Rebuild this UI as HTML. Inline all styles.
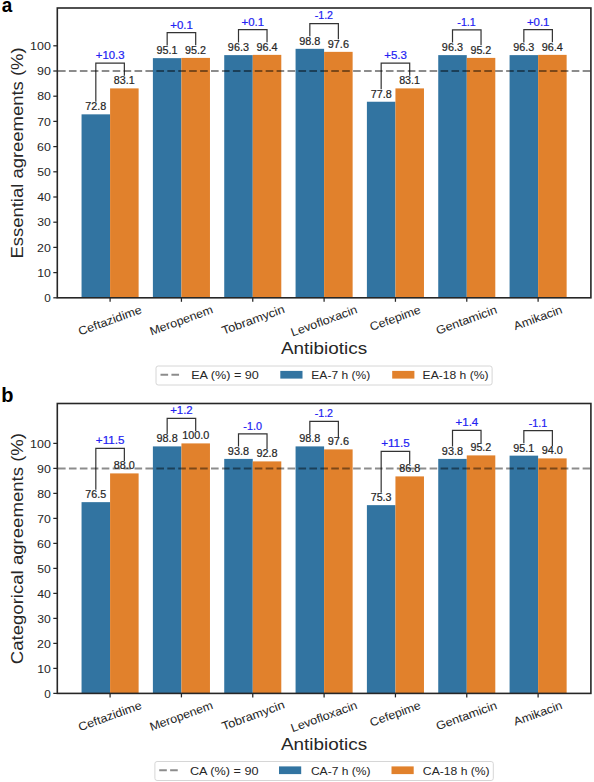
<!DOCTYPE html>
<html><head><meta charset="utf-8"><title>Antibiotic agreements chart</title>
<style>html,body{margin:0;padding:0;background:#fff;} svg{display:block;}</style>
</head><body>
<svg width="594" height="782" viewBox="0 0 594 782">
<rect x="0" y="0" width="594" height="782" fill="#ffffff"/>
<rect x="81.55" y="114.34" width="28.53" height="183.46" fill="#3274a1"/>
<rect x="110.09" y="88.39" width="28.53" height="209.41" fill="#e1812c"/>
<rect x="152.89" y="58.15" width="28.53" height="239.65" fill="#3274a1"/>
<rect x="181.43" y="57.90" width="28.53" height="239.90" fill="#e1812c"/>
<rect x="224.23" y="55.12" width="28.53" height="242.68" fill="#3274a1"/>
<rect x="252.76" y="54.87" width="28.53" height="242.93" fill="#e1812c"/>
<rect x="295.57" y="48.82" width="28.53" height="248.98" fill="#3274a1"/>
<rect x="324.10" y="51.85" width="28.53" height="245.95" fill="#e1812c"/>
<rect x="366.90" y="101.74" width="28.53" height="196.06" fill="#3274a1"/>
<rect x="395.44" y="88.39" width="28.53" height="209.41" fill="#e1812c"/>
<rect x="438.24" y="55.12" width="28.53" height="242.68" fill="#3274a1"/>
<rect x="466.77" y="57.90" width="28.53" height="239.90" fill="#e1812c"/>
<rect x="509.58" y="55.12" width="28.53" height="242.68" fill="#3274a1"/>
<rect x="538.11" y="54.87" width="28.53" height="242.93" fill="#e1812c"/>
<polyline points="95.82,101.74 95.82,63.19 124.36,63.19 124.36,75.79" fill="none" stroke="#333333" stroke-width="1.2" stroke-linejoin="miter"/>
<polyline points="167.16,45.55 167.16,32.70 195.69,32.70 195.69,45.30" fill="none" stroke="#333333" stroke-width="1.2" stroke-linejoin="miter"/>
<polyline points="238.50,42.52 238.50,29.67 267.03,29.67 267.03,42.27" fill="none" stroke="#333333" stroke-width="1.2" stroke-linejoin="miter"/>
<polyline points="309.83,36.22 309.83,23.62 338.37,23.62 338.37,39.25" fill="none" stroke="#333333" stroke-width="1.2" stroke-linejoin="miter"/>
<polyline points="381.17,89.14 381.17,63.19 409.70,63.19 409.70,75.79" fill="none" stroke="#333333" stroke-width="1.2" stroke-linejoin="miter"/>
<polyline points="452.51,42.52 452.51,29.92 481.04,29.92 481.04,45.30" fill="none" stroke="#333333" stroke-width="1.2" stroke-linejoin="miter"/>
<polyline points="523.84,42.52 523.84,29.67 552.38,29.67 552.38,42.27" fill="none" stroke="#333333" stroke-width="1.2" stroke-linejoin="miter"/>
<line x1="57.3" y1="71.00" x2="590.9" y2="71.00" stroke="#000" stroke-opacity="0.45" stroke-width="2.0" stroke-dasharray="7.62 3.31" stroke-dashoffset="-0.7"/>
<rect x="57.3" y="8.0" width="533.60" height="289.80" fill="none" stroke="#262626" stroke-width="1.6"/>
<line x1="53.30" y1="297.80" x2="57.3" y2="297.80" stroke="#262626" stroke-width="1.25"/>
<line x1="53.30" y1="272.60" x2="57.3" y2="272.60" stroke="#262626" stroke-width="1.25"/>
<line x1="53.30" y1="247.40" x2="57.3" y2="247.40" stroke="#262626" stroke-width="1.25"/>
<line x1="53.30" y1="222.20" x2="57.3" y2="222.20" stroke="#262626" stroke-width="1.25"/>
<line x1="53.30" y1="197.00" x2="57.3" y2="197.00" stroke="#262626" stroke-width="1.25"/>
<line x1="53.30" y1="171.80" x2="57.3" y2="171.80" stroke="#262626" stroke-width="1.25"/>
<line x1="53.30" y1="146.60" x2="57.3" y2="146.60" stroke="#262626" stroke-width="1.25"/>
<line x1="53.30" y1="121.40" x2="57.3" y2="121.40" stroke="#262626" stroke-width="1.25"/>
<line x1="53.30" y1="96.20" x2="57.3" y2="96.20" stroke="#262626" stroke-width="1.25"/>
<line x1="53.30" y1="71.00" x2="57.3" y2="71.00" stroke="#262626" stroke-width="1.25"/>
<line x1="53.30" y1="45.80" x2="57.3" y2="45.80" stroke="#262626" stroke-width="1.25"/>
<line x1="110.09" y1="297.8" x2="110.09" y2="301.80" stroke="#262626" stroke-width="1.25"/>
<line x1="181.43" y1="297.8" x2="181.43" y2="301.80" stroke="#262626" stroke-width="1.25"/>
<line x1="252.76" y1="297.8" x2="252.76" y2="301.80" stroke="#262626" stroke-width="1.25"/>
<line x1="324.10" y1="297.8" x2="324.10" y2="301.80" stroke="#262626" stroke-width="1.25"/>
<line x1="395.44" y1="297.8" x2="395.44" y2="301.80" stroke="#262626" stroke-width="1.25"/>
<line x1="466.77" y1="297.8" x2="466.77" y2="301.80" stroke="#262626" stroke-width="1.25"/>
<line x1="538.11" y1="297.8" x2="538.11" y2="301.80" stroke="#262626" stroke-width="1.25"/>
<rect x="156.0" y="366.00" width="336.10" height="19.00" rx="2.2" fill="#fff" stroke="#d6d6d6" stroke-width="1"/>
<line x1="160.5" y1="374.70" x2="179.10" y2="374.70" stroke="#000" stroke-opacity="0.45" stroke-width="2.0" stroke-dasharray="7.62 3.31"/>
<rect x="280.3" y="370.90" width="22.2" height="7.7" fill="#3274a1"/>
<rect x="392.2" y="370.90" width="22.2" height="7.7" fill="#e1812c"/>
<rect x="81.55" y="502.15" width="28.53" height="191.25" fill="#3274a1"/>
<rect x="110.09" y="473.40" width="28.53" height="220.00" fill="#e1812c"/>
<rect x="152.89" y="446.40" width="28.53" height="247.00" fill="#3274a1"/>
<rect x="181.43" y="443.40" width="28.53" height="250.00" fill="#e1812c"/>
<rect x="224.23" y="458.90" width="28.53" height="234.50" fill="#3274a1"/>
<rect x="252.76" y="461.40" width="28.53" height="232.00" fill="#e1812c"/>
<rect x="295.57" y="446.40" width="28.53" height="247.00" fill="#3274a1"/>
<rect x="324.10" y="449.40" width="28.53" height="244.00" fill="#e1812c"/>
<rect x="366.90" y="505.15" width="28.53" height="188.25" fill="#3274a1"/>
<rect x="395.44" y="476.40" width="28.53" height="217.00" fill="#e1812c"/>
<rect x="438.24" y="458.90" width="28.53" height="234.50" fill="#3274a1"/>
<rect x="466.77" y="455.40" width="28.53" height="238.00" fill="#e1812c"/>
<rect x="509.58" y="455.65" width="28.53" height="237.75" fill="#3274a1"/>
<rect x="538.11" y="458.40" width="28.53" height="235.00" fill="#e1812c"/>
<polyline points="95.82,489.65 95.82,448.40 124.36,448.40 124.36,460.90" fill="none" stroke="#333333" stroke-width="1.2" stroke-linejoin="miter"/>
<polyline points="167.16,433.90 167.16,418.40 195.69,418.40 195.69,430.90" fill="none" stroke="#333333" stroke-width="1.2" stroke-linejoin="miter"/>
<polyline points="238.50,446.40 238.50,433.90 267.03,433.90 267.03,448.90" fill="none" stroke="#333333" stroke-width="1.2" stroke-linejoin="miter"/>
<polyline points="309.83,433.90 309.83,421.40 338.37,421.40 338.37,436.90" fill="none" stroke="#333333" stroke-width="1.2" stroke-linejoin="miter"/>
<polyline points="381.17,492.65 381.17,451.40 409.70,451.40 409.70,463.90" fill="none" stroke="#333333" stroke-width="1.2" stroke-linejoin="miter"/>
<polyline points="452.51,446.40 452.51,430.40 481.04,430.40 481.04,442.90" fill="none" stroke="#333333" stroke-width="1.2" stroke-linejoin="miter"/>
<polyline points="523.84,443.15 523.84,430.65 552.38,430.65 552.38,445.90" fill="none" stroke="#333333" stroke-width="1.2" stroke-linejoin="miter"/>
<line x1="57.3" y1="468.40" x2="590.9" y2="468.40" stroke="#000" stroke-opacity="0.45" stroke-width="2.0" stroke-dasharray="7.62 3.31" stroke-dashoffset="-0.7"/>
<rect x="57.3" y="403.5" width="533.60" height="289.90" fill="none" stroke="#262626" stroke-width="1.6"/>
<line x1="53.30" y1="693.40" x2="57.3" y2="693.40" stroke="#262626" stroke-width="1.25"/>
<line x1="53.30" y1="668.40" x2="57.3" y2="668.40" stroke="#262626" stroke-width="1.25"/>
<line x1="53.30" y1="643.40" x2="57.3" y2="643.40" stroke="#262626" stroke-width="1.25"/>
<line x1="53.30" y1="618.40" x2="57.3" y2="618.40" stroke="#262626" stroke-width="1.25"/>
<line x1="53.30" y1="593.40" x2="57.3" y2="593.40" stroke="#262626" stroke-width="1.25"/>
<line x1="53.30" y1="568.40" x2="57.3" y2="568.40" stroke="#262626" stroke-width="1.25"/>
<line x1="53.30" y1="543.40" x2="57.3" y2="543.40" stroke="#262626" stroke-width="1.25"/>
<line x1="53.30" y1="518.40" x2="57.3" y2="518.40" stroke="#262626" stroke-width="1.25"/>
<line x1="53.30" y1="493.40" x2="57.3" y2="493.40" stroke="#262626" stroke-width="1.25"/>
<line x1="53.30" y1="468.40" x2="57.3" y2="468.40" stroke="#262626" stroke-width="1.25"/>
<line x1="53.30" y1="443.40" x2="57.3" y2="443.40" stroke="#262626" stroke-width="1.25"/>
<line x1="110.09" y1="693.4" x2="110.09" y2="697.40" stroke="#262626" stroke-width="1.25"/>
<line x1="181.43" y1="693.4" x2="181.43" y2="697.40" stroke="#262626" stroke-width="1.25"/>
<line x1="252.76" y1="693.4" x2="252.76" y2="697.40" stroke="#262626" stroke-width="1.25"/>
<line x1="324.10" y1="693.4" x2="324.10" y2="697.40" stroke="#262626" stroke-width="1.25"/>
<line x1="395.44" y1="693.4" x2="395.44" y2="697.40" stroke="#262626" stroke-width="1.25"/>
<line x1="466.77" y1="693.4" x2="466.77" y2="697.40" stroke="#262626" stroke-width="1.25"/>
<line x1="538.11" y1="693.4" x2="538.11" y2="697.40" stroke="#262626" stroke-width="1.25"/>
<rect x="154.9" y="761.50" width="338.40" height="19.00" rx="2.2" fill="#fff" stroke="#d6d6d6" stroke-width="1"/>
<line x1="159.2" y1="770.20" x2="177.80" y2="770.20" stroke="#000" stroke-opacity="0.45" stroke-width="2.0" stroke-dasharray="7.62 3.31"/>
<rect x="279.0" y="766.40" width="22.2" height="7.7" fill="#3274a1"/>
<rect x="391.5" y="766.40" width="22.2" height="7.7" fill="#e1812c"/>
<g font-family="'Liberation Sans', sans-serif">
<text x="-0.014" y="0" transform="translate(79.950 335.553) rotate(-20)" font-size="11.700" fill="#262626" textLength="66.562" lengthAdjust="spacingAndGlyphs">Ceftazidime</text>
<text x="0.073" y="0" transform="translate(151.317 335.531) rotate(-20)" font-size="11.700" fill="#262626" textLength="66.370" lengthAdjust="spacingAndGlyphs">Meropenem</text>
<text x="-0.317" y="0" transform="translate(223.770 334.718) rotate(-20)" font-size="11.700" fill="#262626" textLength="66.031" lengthAdjust="spacingAndGlyphs">Tobramycin</text>
<text x="0.063" y="0" transform="translate(292.507 336.611) rotate(-20)" font-size="11.700" fill="#262626" textLength="69.825" lengthAdjust="spacingAndGlyphs">Levofloxacin</text>
<text x="-0.006" y="0" transform="translate(371.447 331.076) rotate(-20)" font-size="11.700" fill="#262626" textLength="53.260" lengthAdjust="spacingAndGlyphs">Cefepime</text>
<text x="-0.009" y="0" transform="translate(437.763 334.731) rotate(-20)" font-size="11.700" fill="#262626" textLength="63.868" lengthAdjust="spacingAndGlyphs">Gentamicin</text>
<text x="0.063" y="0" transform="translate(515.227 330.271) rotate(-20)" font-size="11.700" fill="#262626" textLength="50.946" lengthAdjust="spacingAndGlyphs">Amikacin</text>
<text x="281.030" y="354.000" font-size="17.018" fill="#262626" textLength="86.120" lengthAdjust="spacingAndGlyphs">Antibiotics</text>
<text x="44.308" y="302.000" font-size="11.700" fill="#262626" textLength="6.533" lengthAdjust="spacingAndGlyphs">0</text>
<text x="37.234" y="277.000" font-size="11.700" fill="#262626" textLength="13.627" lengthAdjust="spacingAndGlyphs">10</text>
<text x="37.139" y="252.000" font-size="11.700" fill="#262626" textLength="13.726" lengthAdjust="spacingAndGlyphs">20</text>
<text x="37.329" y="226.000" font-size="11.700" fill="#262626" textLength="13.529" lengthAdjust="spacingAndGlyphs">30</text>
<text x="37.205" y="201.000" font-size="11.700" fill="#262626" textLength="13.656" lengthAdjust="spacingAndGlyphs">40</text>
<text x="37.315" y="176.000" font-size="11.700" fill="#262626" textLength="13.542" lengthAdjust="spacingAndGlyphs">50</text>
<text x="37.092" y="151.000" font-size="11.700" fill="#262626" textLength="13.774" lengthAdjust="spacingAndGlyphs">60</text>
<text x="37.229" y="126.000" font-size="11.700" fill="#262626" textLength="13.632" lengthAdjust="spacingAndGlyphs">70</text>
<text x="37.164" y="100.000" font-size="11.700" fill="#262626" textLength="13.699" lengthAdjust="spacingAndGlyphs">80</text>
<text x="37.063" y="75.000" font-size="11.700" fill="#262626" textLength="13.804" lengthAdjust="spacingAndGlyphs">90</text>
<text x="30.131" y="50.000" font-size="11.700" fill="#262626" textLength="20.737" lengthAdjust="spacingAndGlyphs">100</text>
<text x="-83.172" y="152.900" transform="rotate(-90 22.530 152.900)" font-size="17.018" fill="#262626" textLength="211.232" lengthAdjust="spacingAndGlyphs">Essential agreements (%)</text>
<text x="85.348" y="110.000" font-size="10.535" fill="#262626" stroke="#262626" stroke-width="0.2" textLength="21.002" lengthAdjust="spacingAndGlyphs">72.8</text>
<text x="113.824" y="84.000" font-size="10.535" fill="#262626" stroke="#262626" stroke-width="0.2" textLength="20.876" lengthAdjust="spacingAndGlyphs">83.1</text>
<text x="95.815" y="59.000" font-size="10.535" fill="#2222f2" stroke="#2222f2" stroke-width="0.2" textLength="28.755" lengthAdjust="spacingAndGlyphs">+10.3</text>
<text x="156.539" y="54.000" font-size="10.535" fill="#262626" stroke="#262626" stroke-width="0.2" textLength="20.964" lengthAdjust="spacingAndGlyphs">95.1</text>
<text x="185.073" y="54.000" font-size="10.535" fill="#262626" stroke="#262626" stroke-width="0.2" textLength="20.901" lengthAdjust="spacingAndGlyphs">95.2</text>
<text x="170.207" y="29.000" font-size="10.535" fill="#2222f2" stroke="#2222f2" stroke-width="0.2" textLength="22.577" lengthAdjust="spacingAndGlyphs">+0.1</text>
<text x="227.877" y="51.000" font-size="10.535" fill="#262626" stroke="#262626" stroke-width="0.2" textLength="21.032" lengthAdjust="spacingAndGlyphs">96.3</text>
<text x="256.416" y="51.000" font-size="10.535" fill="#262626" stroke="#262626" stroke-width="0.2" textLength="21.107" lengthAdjust="spacingAndGlyphs">96.4</text>
<text x="241.544" y="26.000" font-size="10.535" fill="#2222f2" stroke="#2222f2" stroke-width="0.2" textLength="22.577" lengthAdjust="spacingAndGlyphs">+0.1</text>
<text x="299.215" y="45.000" font-size="10.535" fill="#262626" stroke="#262626" stroke-width="0.2" textLength="21.145" lengthAdjust="spacingAndGlyphs">98.8</text>
<text x="327.749" y="48.000" font-size="10.535" fill="#262626" stroke="#262626" stroke-width="0.2" textLength="21.204" lengthAdjust="spacingAndGlyphs">97.6</text>
<text x="314.695" y="19.000" font-size="10.535" fill="#2222f2" stroke="#2222f2" stroke-width="0.2" textLength="18.353" lengthAdjust="spacingAndGlyphs">-1.2</text>
<text x="370.696" y="98.000" font-size="10.535" fill="#262626" stroke="#262626" stroke-width="0.2" textLength="21.002" lengthAdjust="spacingAndGlyphs">77.8</text>
<text x="399.171" y="84.000" font-size="10.535" fill="#262626" stroke="#262626" stroke-width="0.2" textLength="20.876" lengthAdjust="spacingAndGlyphs">83.1</text>
<text x="384.219" y="59.000" font-size="10.535" fill="#2222f2" stroke="#2222f2" stroke-width="0.2" textLength="22.642" lengthAdjust="spacingAndGlyphs">+5.3</text>
<text x="441.888" y="51.000" font-size="10.535" fill="#262626" stroke="#262626" stroke-width="0.2" textLength="21.032" lengthAdjust="spacingAndGlyphs">96.3</text>
<text x="470.421" y="54.000" font-size="10.535" fill="#262626" stroke="#262626" stroke-width="0.2" textLength="20.901" lengthAdjust="spacingAndGlyphs">95.2</text>
<text x="457.369" y="26.000" font-size="10.535" fill="#2222f2" stroke="#2222f2" stroke-width="0.2" textLength="18.416" lengthAdjust="spacingAndGlyphs">-1.1</text>
<text x="513.225" y="51.000" font-size="10.535" fill="#262626" stroke="#262626" stroke-width="0.2" textLength="21.032" lengthAdjust="spacingAndGlyphs">96.3</text>
<text x="541.764" y="51.000" font-size="10.535" fill="#262626" stroke="#262626" stroke-width="0.2" textLength="21.107" lengthAdjust="spacingAndGlyphs">96.4</text>
<text x="526.891" y="26.000" font-size="10.535" fill="#2222f2" stroke="#2222f2" stroke-width="0.2" textLength="22.577" lengthAdjust="spacingAndGlyphs">+0.1</text>
<text x="191.143" y="379.000" font-size="11.700" fill="#262626" textLength="67.768" lengthAdjust="spacingAndGlyphs">EA (%) = 90</text>
<text x="311.355" y="379.000" font-size="11.700" fill="#262626" textLength="58.886" lengthAdjust="spacingAndGlyphs">EA-7 h (%)</text>
<text x="422.585" y="379.000" font-size="11.700" fill="#262626" textLength="65.986" lengthAdjust="spacingAndGlyphs">EA-18 h (%)</text>
<text x="-0.014" y="0" transform="translate(79.950 731.153) rotate(-20)" font-size="11.700" fill="#262626" textLength="66.562" lengthAdjust="spacingAndGlyphs">Ceftazidime</text>
<text x="0.073" y="0" transform="translate(151.317 731.131) rotate(-20)" font-size="11.700" fill="#262626" textLength="66.370" lengthAdjust="spacingAndGlyphs">Meropenem</text>
<text x="-0.317" y="0" transform="translate(223.770 730.318) rotate(-20)" font-size="11.700" fill="#262626" textLength="66.031" lengthAdjust="spacingAndGlyphs">Tobramycin</text>
<text x="0.063" y="0" transform="translate(292.507 732.211) rotate(-20)" font-size="11.700" fill="#262626" textLength="69.825" lengthAdjust="spacingAndGlyphs">Levofloxacin</text>
<text x="-0.006" y="0" transform="translate(371.447 726.676) rotate(-20)" font-size="11.700" fill="#262626" textLength="53.260" lengthAdjust="spacingAndGlyphs">Cefepime</text>
<text x="-0.009" y="0" transform="translate(437.763 730.331) rotate(-20)" font-size="11.700" fill="#262626" textLength="63.868" lengthAdjust="spacingAndGlyphs">Gentamicin</text>
<text x="0.063" y="0" transform="translate(515.227 725.871) rotate(-20)" font-size="11.700" fill="#262626" textLength="50.946" lengthAdjust="spacingAndGlyphs">Amikacin</text>
<text x="281.030" y="750.000" font-size="17.018" fill="#262626" textLength="86.120" lengthAdjust="spacingAndGlyphs">Antibiotics</text>
<text x="44.308" y="698.000" font-size="11.700" fill="#262626" textLength="6.533" lengthAdjust="spacingAndGlyphs">0</text>
<text x="37.234" y="673.000" font-size="11.700" fill="#262626" textLength="13.627" lengthAdjust="spacingAndGlyphs">10</text>
<text x="37.139" y="648.000" font-size="11.700" fill="#262626" textLength="13.726" lengthAdjust="spacingAndGlyphs">20</text>
<text x="37.329" y="623.000" font-size="11.700" fill="#262626" textLength="13.529" lengthAdjust="spacingAndGlyphs">30</text>
<text x="37.205" y="598.000" font-size="11.700" fill="#262626" textLength="13.656" lengthAdjust="spacingAndGlyphs">40</text>
<text x="37.315" y="573.000" font-size="11.700" fill="#262626" textLength="13.542" lengthAdjust="spacingAndGlyphs">50</text>
<text x="37.092" y="548.000" font-size="11.700" fill="#262626" textLength="13.774" lengthAdjust="spacingAndGlyphs">60</text>
<text x="37.229" y="523.000" font-size="11.700" fill="#262626" textLength="13.632" lengthAdjust="spacingAndGlyphs">70</text>
<text x="37.164" y="498.000" font-size="11.700" fill="#262626" textLength="13.699" lengthAdjust="spacingAndGlyphs">80</text>
<text x="37.063" y="473.000" font-size="11.700" fill="#262626" textLength="13.804" lengthAdjust="spacingAndGlyphs">90</text>
<text x="30.131" y="448.000" font-size="11.700" fill="#262626" textLength="20.737" lengthAdjust="spacingAndGlyphs">100</text>
<text x="-93.238" y="548.450" transform="rotate(-90 22.530 548.450)" font-size="17.018" fill="#262626" textLength="231.261" lengthAdjust="spacingAndGlyphs">Categorical agreements (%)</text>
<text x="85.349" y="498.000" font-size="10.535" fill="#262626" stroke="#262626" stroke-width="0.2" textLength="20.793" lengthAdjust="spacingAndGlyphs">76.5</text>
<text x="113.827" y="469.000" font-size="10.535" fill="#262626" stroke="#262626" stroke-width="0.2" textLength="21.027" lengthAdjust="spacingAndGlyphs">88.0</text>
<text x="95.815" y="444.000" font-size="10.535" fill="#2222f2" stroke="#2222f2" stroke-width="0.2" textLength="28.659" lengthAdjust="spacingAndGlyphs">+11.5</text>
<text x="156.541" y="442.000" font-size="10.535" fill="#262626" stroke="#262626" stroke-width="0.2" textLength="21.145" lengthAdjust="spacingAndGlyphs">98.8</text>
<text x="182.162" y="439.000" font-size="10.535" fill="#262626" stroke="#262626" stroke-width="0.2" textLength="27.102" lengthAdjust="spacingAndGlyphs">100.0</text>
<text x="170.206" y="414.000" font-size="10.535" fill="#2222f2" stroke="#2222f2" stroke-width="0.2" textLength="22.516" lengthAdjust="spacingAndGlyphs">+1.2</text>
<text x="227.878" y="455.000" font-size="10.535" fill="#262626" stroke="#262626" stroke-width="0.2" textLength="21.145" lengthAdjust="spacingAndGlyphs">93.8</text>
<text x="256.412" y="457.000" font-size="10.535" fill="#262626" stroke="#262626" stroke-width="0.2" textLength="21.145" lengthAdjust="spacingAndGlyphs">92.8</text>
<text x="243.361" y="430.000" font-size="10.535" fill="#2222f2" stroke="#2222f2" stroke-width="0.2" textLength="18.568" lengthAdjust="spacingAndGlyphs">-1.0</text>
<text x="299.215" y="442.000" font-size="10.535" fill="#262626" stroke="#262626" stroke-width="0.2" textLength="21.145" lengthAdjust="spacingAndGlyphs">98.8</text>
<text x="327.749" y="445.000" font-size="10.535" fill="#262626" stroke="#262626" stroke-width="0.2" textLength="21.204" lengthAdjust="spacingAndGlyphs">97.6</text>
<text x="314.695" y="417.000" font-size="10.535" fill="#2222f2" stroke="#2222f2" stroke-width="0.2" textLength="18.353" lengthAdjust="spacingAndGlyphs">-1.2</text>
<text x="370.696" y="501.000" font-size="10.535" fill="#262626" stroke="#262626" stroke-width="0.2" textLength="20.889" lengthAdjust="spacingAndGlyphs">75.3</text>
<text x="399.173" y="472.000" font-size="10.535" fill="#262626" stroke="#262626" stroke-width="0.2" textLength="21.057" lengthAdjust="spacingAndGlyphs">86.8</text>
<text x="381.163" y="447.000" font-size="10.535" fill="#2222f2" stroke="#2222f2" stroke-width="0.2" textLength="28.659" lengthAdjust="spacingAndGlyphs">+11.5</text>
<text x="441.888" y="455.000" font-size="10.535" fill="#262626" stroke="#262626" stroke-width="0.2" textLength="21.145" lengthAdjust="spacingAndGlyphs">93.8</text>
<text x="470.421" y="451.000" font-size="10.535" fill="#262626" stroke="#262626" stroke-width="0.2" textLength="20.901" lengthAdjust="spacingAndGlyphs">95.2</text>
<text x="455.560" y="426.000" font-size="10.535" fill="#2222f2" stroke="#2222f2" stroke-width="0.2" textLength="22.707" lengthAdjust="spacingAndGlyphs">+1.4</text>
<text x="513.224" y="452.000" font-size="10.535" fill="#262626" stroke="#262626" stroke-width="0.2" textLength="20.964" lengthAdjust="spacingAndGlyphs">95.1</text>
<text x="541.761" y="454.000" font-size="10.535" fill="#262626" stroke="#262626" stroke-width="0.2" textLength="21.114" lengthAdjust="spacingAndGlyphs">94.0</text>
<text x="528.706" y="427.000" font-size="10.535" fill="#2222f2" stroke="#2222f2" stroke-width="0.2" textLength="18.416" lengthAdjust="spacingAndGlyphs">-1.1</text>
<text x="189.955" y="775.000" font-size="11.700" fill="#262626" textLength="68.588" lengthAdjust="spacingAndGlyphs">CA (%) = 90</text>
<text x="310.891" y="775.000" font-size="11.700" fill="#262626" textLength="59.721" lengthAdjust="spacingAndGlyphs">CA-7 h (%)</text>
<text x="422.864" y="775.000" font-size="11.700" fill="#262626" textLength="66.819" lengthAdjust="spacingAndGlyphs">CA-18 h (%)</text>
</g>
<text x="1.7" y="11.5" font-family="'Liberation Sans', sans-serif" font-weight="bold" font-size="20" fill="#000" textLength="10.5" lengthAdjust="spacingAndGlyphs">a</text>
<text x="1.2" y="402.1" font-family="'Liberation Sans', sans-serif" font-weight="bold" font-size="20" fill="#000">b</text>
</svg>
</body></html>
